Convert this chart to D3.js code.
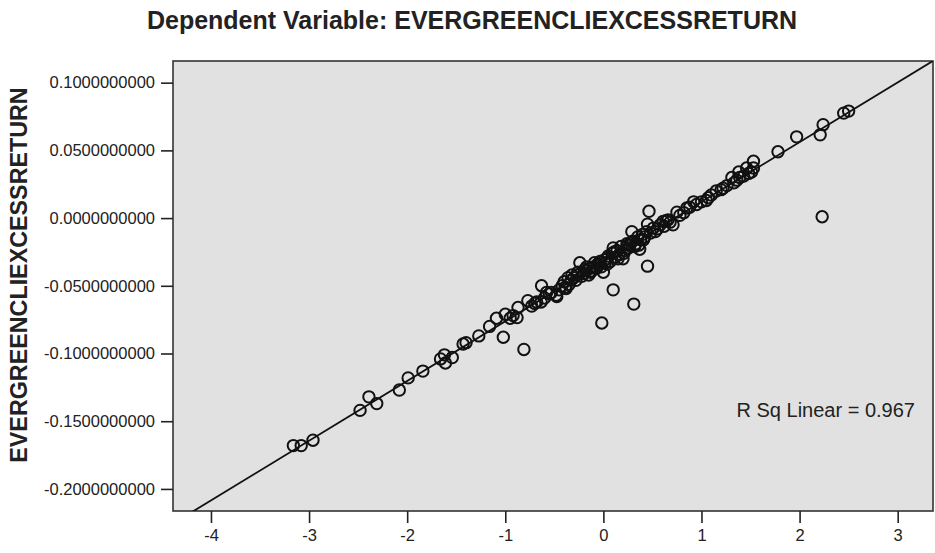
<html>
	<head>
		<meta charset="utf-8">
		<script type="text/javascript" src="https://cdn.jsdelivr.net/npm/d3@7/dist/d3.min.js"></script>
		<style>
			body { margin: 0; background: #fff; }
			text { font-family: "Liberation Sans", Arial, sans-serif; }
			.axis path, .axis line { stroke: #222; stroke-width: 1.6px; }
			.axis text { font-size: 16.5px; fill: #222; }
		</style>
	</head>
	<body>
		<div id="chart"></div>
		<script>
			// standardized predicted value (x) vs observed excess return (y)
			var xValues = [
				-3.16, -3.08, -2.96, -2.48, -2.39, -2.31, -2.08, -1.99, -1.84, -1.66,
				-1.61, -1.54, -1.62, -1.43, -1.40, -1.27, -1.16, -1.09, -1.02, -1.00,
				-0.88, -0.87, -0.81, -0.77, -0.73, -0.63, -0.635, -0.58, -0.53, -0.475,
				-0.39, -0.36, -0.32, -0.24, -0.18, -0.136, -0.10, -0.034, 0.0, -0.016,
				0.035, 0.10, 0.10, 0.20, 0.27, 0.31, 0.29, 0.37, 0.45, 0.465,
				0.45, 0.51, 0.58, 0.61, 0.66, 0.71, 0.75, 0.85, 0.92, 1.07,
				1.15, 1.26, 1.31, 1.38, 1.39, 1.46, 1.53, 1.53, 1.51, 1.78,
				1.97, 2.21, 2.24, 2.23, 2.45, 2.50,
				-0.45, -0.42, -0.40, -0.35, -0.33, -0.30, -0.28, -0.26, -0.22, -0.20,
				-0.17, -0.15, -0.12, -0.09, -0.07, -0.05, -0.02, 0.02, 0.05, 0.07,
				0.09, 0.12, 0.14, 0.16, 0.18, 0.22, 0.24, 0.26, 0.30, 0.33,
				0.35, 0.38, 0.40, 0.42, 0.48, 0.55, 0.62, 0.68, 0.78, 0.82,
				0.88, 0.95, 1.00, 1.05, 1.10, 1.20, 1.22, 1.33, 1.36, 1.43,
				1.48, -0.55, -0.60, -0.68, -0.70, -0.92, -0.95,
				-0.27, -0.19, -0.13, -0.06, 0.01, 0.04, 0.11, 0.15, 0.21, 0.25,
				0.32, 0.36, 0.41, 0.44, -0.38, -0.48, 0.53, 0.64
			];
			var yValues = [
				-0.168, -0.168, -0.164, -0.142, -0.132, -0.137, -0.127, -0.118, -0.113, -0.104,
				-0.107, -0.103, -0.101, -0.093, -0.092, -0.087, -0.080, -0.074, -0.088, -0.071,
				-0.0735, -0.066, -0.097, -0.061, -0.065, -0.050, -0.062, -0.055, -0.055, -0.058,
				-0.051, -0.044, -0.042, -0.033, -0.039, -0.037, -0.036, -0.032, -0.040, -0.0775,
				-0.030, -0.053, -0.022, -0.030, -0.020, -0.0635, -0.010, -0.023, -0.0355, 0.005,
				-0.0045, -0.0074, -0.005, -0.0024, -0.0013, -0.005, 0.0044, 0.0074, 0.012, 0.015,
				0.020, 0.024, 0.030, 0.034, 0.030, 0.037, 0.042, 0.037, 0.034, 0.049,
				0.060, 0.0615, 0.069, 0.001, 0.0775, 0.079,
				-0.053, -0.050, -0.047, -0.049, -0.046, -0.044, -0.046, -0.040, -0.043, -0.041,
				-0.036, -0.042, -0.039, -0.033, -0.037, -0.035, -0.036, -0.033, -0.028, -0.032,
				-0.026, -0.029, -0.024, -0.027, -0.021, -0.024, -0.019, -0.022, -0.017, -0.019,
				-0.014, -0.016, -0.012, -0.014, -0.011, -0.008, -0.006, -0.003, 0.002, 0.004,
				0.008, 0.010, 0.012, 0.013, 0.017, 0.021, 0.022, 0.026, 0.028, 0.031,
				0.033, -0.056, -0.059, -0.062, -0.063, -0.072, -0.074,
				-0.042, -0.038, -0.040, -0.034, -0.031, -0.034, -0.025, -0.030, -0.026, -0.020,
				-0.021, -0.020, -0.016, -0.010, -0.052, -0.057, -0.010, -0.002
			];
			var xTicks = [-4, -3, -2, -1, 0, 1, 2, 3];
			var yTicks = [0.1, 0.05, 0, -0.05, -0.1, -0.15, -0.2];
			// fitted line
			var fitIntercept = -0.0321;
			var fitSlope = 0.0441;
			var rSqLabel = "R Sq Linear = 0.967";
			var title = "Dependent Variable: EVERGREENCLIEXCESSRETURN";
			var yAxisName = "EVERGREENCLIEXCESSRETURN";

			var mainWidth = 935;
			var mainHeight = 553;
			var margin = {top: 61, right: 2, bottom: 42, left: 173};
			var width = mainWidth - margin.left - margin.right;
			var height = mainHeight - margin.top - margin.bottom;

			var xScale = d3.scaleLinear().domain([-4.387, 3.36]).range([0, width]);
			var yScale = d3.scaleLinear().domain([-0.2163, 0.116]).range([height, 0]);

			// plain hyphen for negatives, like the original
			var hy = function(f) { return function(d) { return f(d).replace("\u2212", "-"); }; };

			var svg = d3.select("#chart").append("svg")
				.attr("width", mainWidth)
				.attr("height", mainHeight);

			svg.append("text")
				.attr("x", 472).attr("y", 29)
				.attr("text-anchor", "middle")
				.style("font-size", "25px").style("font-weight", "bold").style("fill", "#222")
				.text(title);

			svg.append("text")
				.attr("transform", "translate(27," + 275 + ") rotate(-90)")
				.attr("text-anchor", "middle")
				.style("font-size", "23.3px").style("font-weight", "bold").style("fill", "#222")
				.text(yAxisName);

			var g = svg.append("g")
				.attr("transform", "translate(" + margin.left + "," + margin.top + ")");

			// plot background
			g.append("rect")
				.attr("width", width).attr("height", height)
				.style("fill", "#e1e1e1").style("stroke", "#333").style("stroke-width", "1.6px");

			g.append("clipPath").attr("id", "clip")
				.append("rect").attr("width", width).attr("height", height);

			g.append("g").attr("class", "x axis")
				.attr("transform", "translate(0," + height + ")")
				.call(d3.axisBottom(xScale).tickValues(xTicks).tickSize(12).tickPadding(6).tickFormat(hy(d3.format("d"))))
				.call(function(a) { a.select(".domain").remove(); });

			g.append("g").attr("class", "y axis")
				.call(d3.axisLeft(yScale).tickValues(yTicks).tickSize(12).tickPadding(6).tickFormat(hy(d3.format(".10f"))))
				.call(function(a) { a.select(".domain").remove(); });

			// regression line
			var xDom = xScale.domain();
			var fitLine = d3.line()
				.x(function(d) { return xScale(d); })
				.y(function(d) { return yScale(fitIntercept + fitSlope * d); });
			g.append("path").datum(xDom)
				.attr("clip-path", "url(#clip)")
				.attr("d", fitLine)
				.style("fill", "none").style("stroke", "#111").style("stroke-width", "1.8px");

			var points = xValues.map(function(x, i) { return {x: x, y: yValues[i]}; });
			g.selectAll(".dot")
				.data(points)
				.enter().append("circle")
					.attr("class", "dot")
					.attr("cx", function(d) { return xScale(d.x); })
					.attr("cy", function(d) { return yScale(d.y); })
					.attr("r", 5.7)
					.style("fill", "none").style("stroke", "#111").style("stroke-width", "2px");

			g.append("text")
				.attr("x", width - 18).attr("y", 356)
				.attr("text-anchor", "end")
				.style("font-size", "20px").style("fill", "#222")
				.text(rSqLabel);
		</script>
	</body>
</html>
